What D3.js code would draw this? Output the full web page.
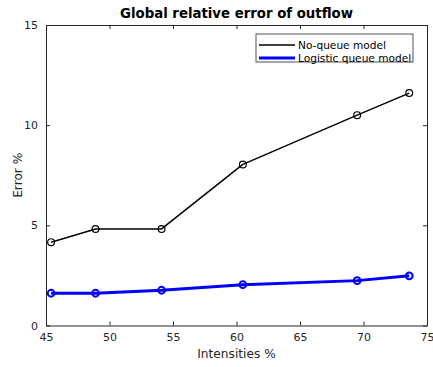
<!DOCTYPE html>
<html>
<head>
<meta charset="utf-8">
<script src="https://cdn.jsdelivr.net/npm/d3@7"></script>
<style>
  html, body { margin: 0; padding: 0; background: #fff; }
  svg { display: block; font-family: "DejaVu Sans", sans-serif; }
</style>
</head>
<body>
<svg id="chart" width="433" height="367"></svg>
<script>
// Traffic intensity (%) at which each run was evaluated
const intensities = [45.4, 48.9, 54.1, 60.5, 69.5, 73.6];
// Global relative error of outflow (%) per model
const noQueueError = [4.16, 4.82, 4.82, 8.04, 10.5, 11.6];
const logisticQueueError = [1.61, 1.61, 1.76, 2.04, 2.24, 2.48];
const seriesNames = ["No-queue model", "Logistic queue model"];
const xTicks = [45, 50, 55, 60, 65, 70, 75];
const yTicks = [0, 5, 10, 15];

const svg = d3.select("#chart");
const margin = { left: 46, right: 6, top: 25, bottom: 41.5 };
const W = 433, H = 367;
const x = d3.scaleLinear().domain([45, 75]).range([margin.left, W - margin.right]);
const y = d3.scaleLinear().domain([0, 15]).range([H - margin.bottom, margin.top]);
const axisColor = "#262626";

// plot background
svg.append("rect")
  .attr("x", x(45)).attr("y", y(15))
  .attr("width", x(75) - x(45)).attr("height", y(0) - y(15))
  .attr("fill", "#fff");

function styleAxis(g) {
  g.selectAll("path").attr("stroke", axisColor).attr("stroke-width", 1);
  g.selectAll("line").attr("stroke", axisColor);
  g.selectAll("text").attr("fill", axisColor).attr("font-size", 11)
    .attr("font-family", "DejaVu Sans, sans-serif");
}

// bottom axis with inward ticks
svg.append("g").attr("transform", `translate(0,${y(0)})`)
  .call(d3.axisBottom(x).tickValues(xTicks).tickSizeInner(-4).tickSizeOuter(0).tickPadding(8))
  .call(styleAxis);
// top axis, ticks only
svg.append("g").attr("transform", `translate(0,${y(15)})`)
  .call(d3.axisTop(x).tickValues(xTicks).tickSizeInner(-4).tickSizeOuter(0).tickFormat(""))
  .call(styleAxis);
// left axis
svg.append("g").attr("transform", `translate(${x(45)},0)`)
  .call(d3.axisLeft(y).tickValues(yTicks).tickSizeInner(-4).tickSizeOuter(0).tickPadding(8))
  .call(styleAxis);
// right axis, ticks only
svg.append("g").attr("transform", `translate(${x(75)},0)`)
  .call(d3.axisRight(y).tickValues(yTicks).tickSizeInner(-4).tickSizeOuter(0).tickFormat(""))
  .call(styleAxis);

// series
const series = [
  { name: seriesNames[0], values: noQueueError, color: "#000", width: 1.5 },
  { name: seriesNames[1], values: logisticQueueError, color: "#0000ff", width: 3 }
];
const line = d3.line().x((d, i) => x(intensities[i])).y(d => y(d));

series.forEach(s => {
  svg.append("path")
    .datum(s.values)
    .attr("d", line)
    .attr("fill", "none")
    .attr("stroke", s.color)
    .attr("stroke-width", s.width)
    .attr("stroke-linejoin", "round");
  svg.append("g").selectAll("circle")
    .data(s.values)
    .join("circle")
    .attr("cx", (d, i) => x(intensities[i]))
    .attr("cy", d => y(d))
    .attr("r", 3.4)
    .attr("fill", "none")
    .attr("stroke", s.color)
    .attr("stroke-width", s.width === 3 ? 2 : 1.2);
});

// title
svg.append("text")
  .attr("x", (x(45) + x(75)) / 2).attr("y", 18)
  .attr("text-anchor", "middle")
  .attr("font-size", 13.3).attr("font-weight", "bold")
  .attr("fill", "#000")
  .text("Global relative error of outflow");

// axis labels
svg.append("text")
  .attr("x", (x(45) + x(75)) / 2).attr("y", 358)
  .attr("text-anchor", "middle")
  .attr("font-size", 12.2).attr("fill", axisColor)
  .text("Intensities %");
svg.append("text")
  .attr("transform", `translate(22,${(y(0) + y(15)) / 2}) rotate(-90)`)
  .attr("text-anchor", "middle")
  .attr("font-size", 12.2).attr("fill", axisColor)
  .text("Error %");

// legend
const legend = svg.append("g").attr("transform", "translate(256,34)");
legend.append("rect")
  .attr("x", 0).attr("y", 0).attr("width", 157).attr("height", 28)
  .attr("fill", "#fff").attr("stroke", axisColor).attr("stroke-width", 0.8);
series.forEach((s, i) => {
  const ly = 11 + i * 13;
  legend.append("line")
    .attr("x1", 3).attr("x2", 39).attr("y1", ly).attr("y2", ly)
    .attr("stroke", s.color).attr("stroke-width", s.width);
  legend.append("text")
    .attr("x", 42).attr("y", ly + 3.5)
    .attr("font-size", 10.6).attr("fill", "#000")
    .text(s.name);
});
</script>
</body>
</html>
